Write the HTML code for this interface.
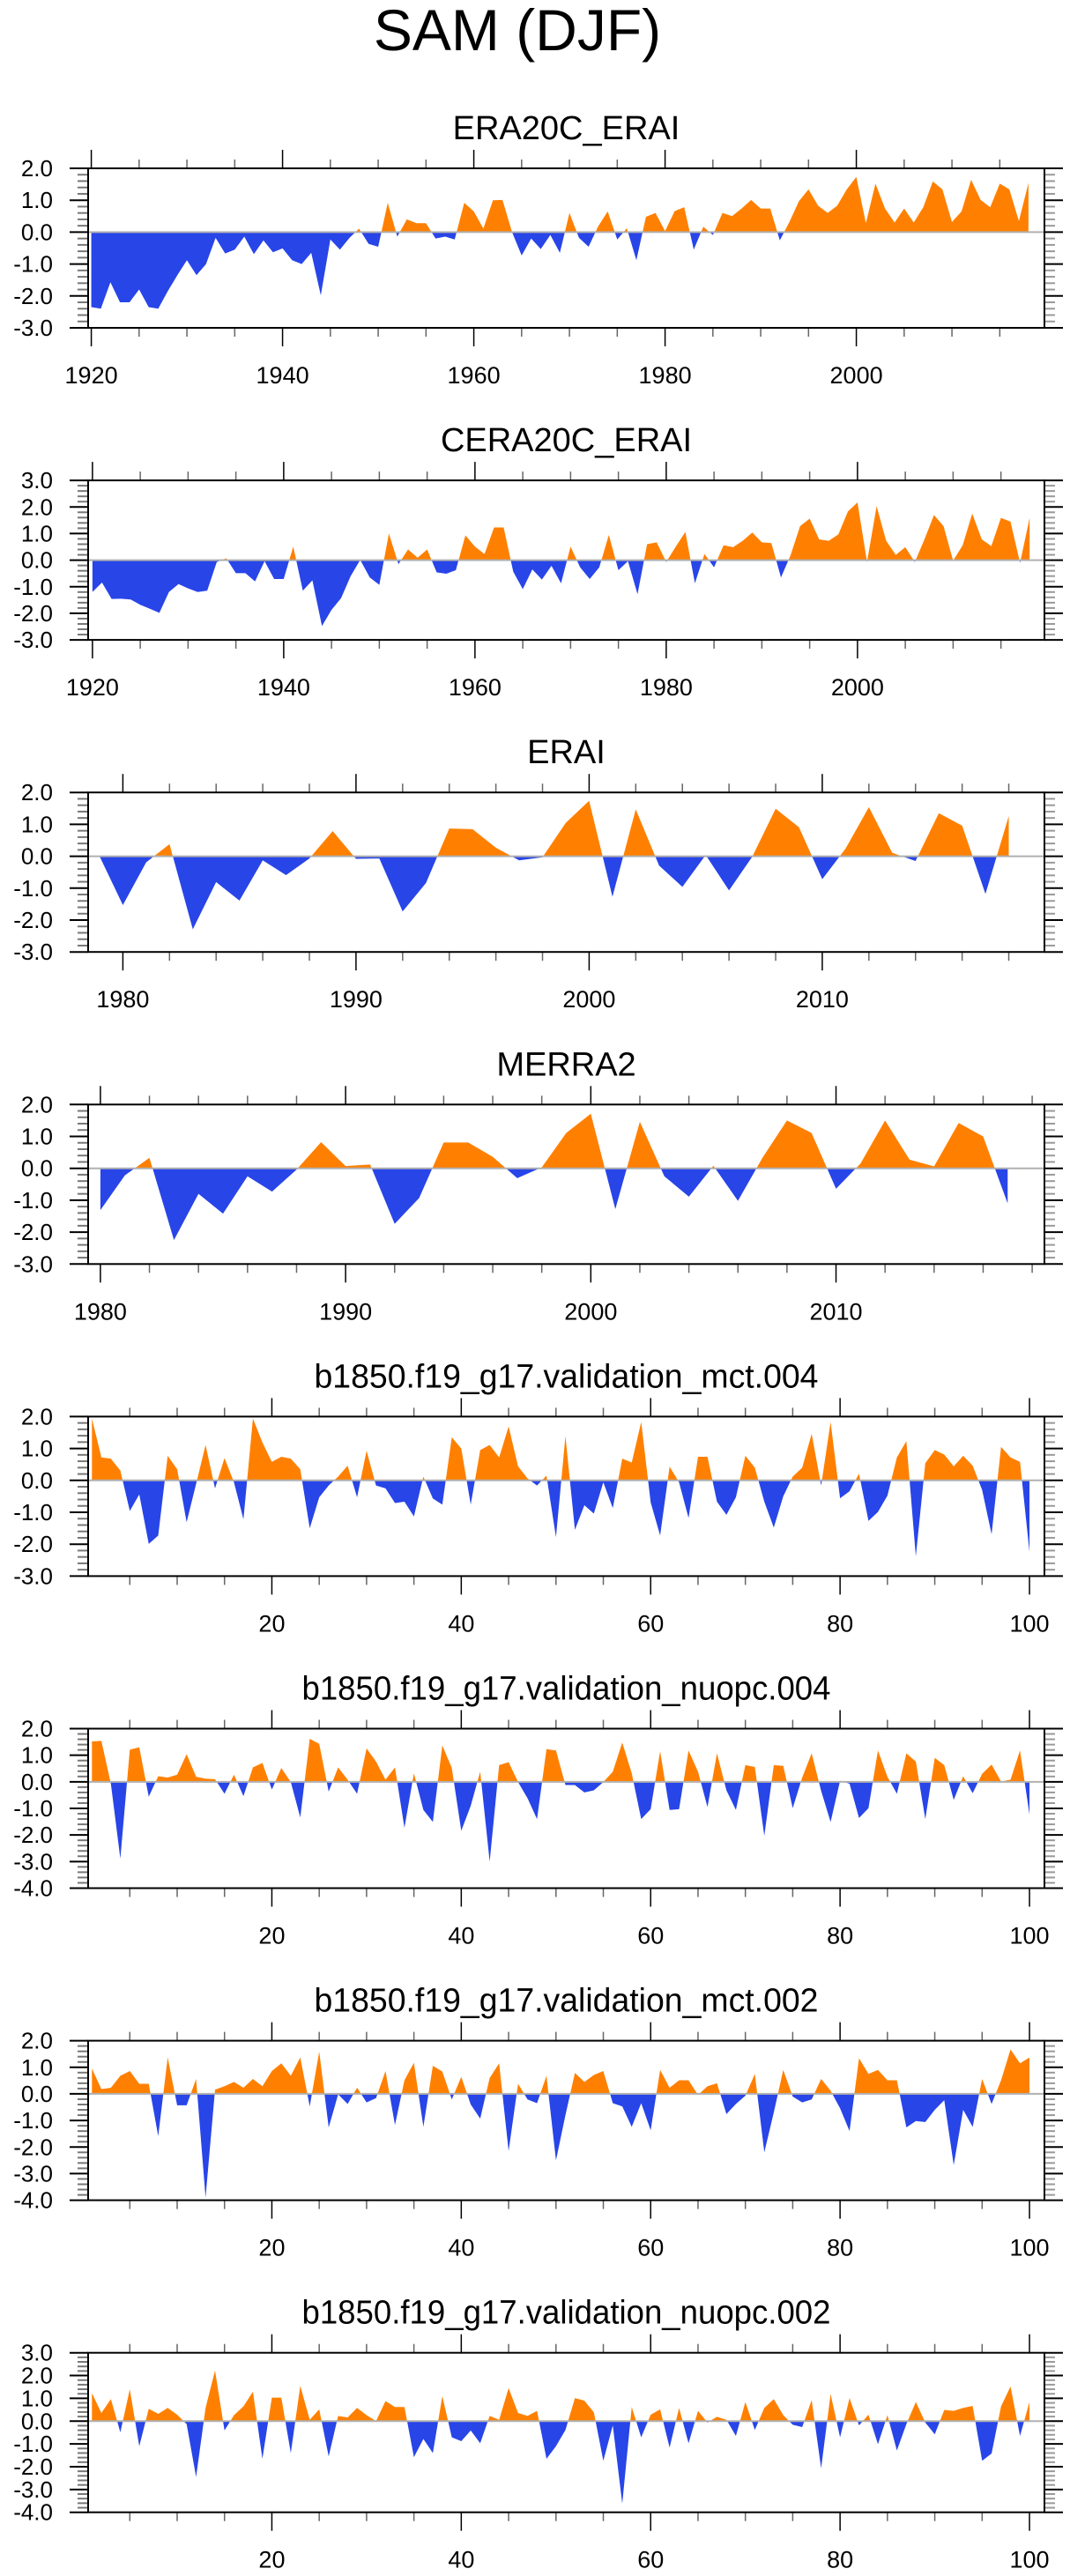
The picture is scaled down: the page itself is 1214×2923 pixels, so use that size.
<!DOCTYPE html>
<html><head><meta charset="utf-8">
<style>
html,body{margin:0;padding:0;background:#fff;}
svg{display:block;font-family:"Liberation Sans",Arial,sans-serif;}
</style></head>
<body>
<svg id="fig" width="1214" height="2923" viewBox="0 0 1214 2923" xmlns="http://www.w3.org/2000/svg">
<text x="587" y="57" font-size="66" text-anchor="middle" fill="#000">SAM (DJF)</text>
</svg>
<script>
// ---- data arrays ----
const era20cStart = 1920;
const era20cVals = [-2.35,-2.4,-1.57,-2.2,-2.2,-1.8,-2.35,-2.4,-1.85,-1.35,-0.88,-1.35,-1.0,-0.18,-0.67,-0.55,-0.14,-0.69,-0.26,-0.63,-0.51,-0.88,-1.0,-0.65,-1.98,-0.23,-0.55,-0.18,0.11,-0.37,-0.46,0.92,-0.14,0.4,0.28,0.28,-0.2,-0.14,-0.23,0.92,0.65,0.11,1.0,1.01,0.0,-0.73,-0.2,-0.53,-0.09,-0.65,0.6,-0.18,-0.46,0.18,0.65,-0.23,0.12,-0.88,0.48,0.6,0.03,0.66,0.78,-0.55,0.17,-0.09,0.6,0.5,0.74,1.01,0.74,0.74,-0.26,0.32,0.97,1.34,0.83,0.6,0.83,1.34,1.73,0.28,1.52,0.74,0.3,0.74,0.3,0.78,1.59,1.34,0.32,0.65,1.64,1.01,0.78,1.52,1.34,0.35,1.54];
const cera20cStart = 1920;
const cera20cVals = [-1.2,-0.84,-1.46,-1.45,-1.48,-1.68,-1.83,-1.98,-1.2,-0.9,-1.06,-1.2,-1.15,-0.07,0.07,-0.49,-0.49,-0.8,-0.04,-0.71,-0.71,0.51,-1.15,-0.76,-2.48,-1.87,-1.43,-0.6,0.01,-0.65,-0.93,1.0,-0.15,0.4,0.09,0.4,-0.46,-0.51,-0.38,0.93,0.51,0.23,1.23,1.23,-0.43,-1.09,-0.35,-0.73,-0.21,-0.87,0.51,-0.27,-0.71,-0.27,0.95,-0.38,-0.04,-1.28,0.6,0.67,-0.07,0.51,1.06,-0.87,0.23,-0.27,0.56,0.49,0.73,1.04,0.67,0.64,-0.65,0.18,1.28,1.56,0.78,0.73,0.97,1.83,2.17,-0.07,2.03,0.73,0.2,0.49,-0.07,0.78,1.7,1.28,-0.02,0.56,1.75,0.78,0.53,1.59,1.45,-0.1,1.59];
const eraiStart = 1979;
const eraiVals = [0.0,-1.53,-0.19,0.38,-2.29,-0.81,-1.39,-0.13,-0.59,-0.07,0.79,-0.08,-0.07,-1.73,-0.84,0.87,0.85,0.27,-0.13,-0.03,1.05,1.74,-1.27,1.47,-0.29,-0.96,0.04,-1.07,-0.01,1.49,0.91,-0.72,0.24,1.54,0.11,-0.15,1.35,0.96,-1.18,1.26];
const merraStart = 1980;
const merraVals = [-1.31,-0.22,0.33,-2.25,-0.8,-1.42,-0.25,-0.73,-0.04,0.82,0.07,0.12,-1.74,-0.93,0.81,0.81,0.36,-0.31,0.03,1.11,1.71,-1.28,1.46,-0.25,-0.89,0.08,-1.02,0.33,1.5,1.11,-0.64,0.15,1.5,0.27,0.06,1.42,1.0,-1.1];
const mct004Start = 1;
const mct004Vals = [1.94,0.72,0.68,0.31,-0.96,-0.44,-1.99,-1.73,0.77,0.35,-1.31,-0.11,1.11,-0.25,0.7,-0.06,-1.22,1.94,1.19,0.58,0.74,0.68,0.35,-1.5,-0.53,-0.16,0.12,0.46,-0.53,0.93,-0.16,-0.25,-0.71,-0.67,-1.13,0.12,-0.57,-0.76,1.35,1.0,-0.76,0.95,1.11,0.72,1.69,0.44,0.06,-0.16,0.15,-1.78,1.39,-1.55,-0.78,-1.04,-0.06,-0.87,0.68,0.56,1.83,-0.69,-1.73,0.43,-0.06,-1.18,0.74,0.74,-0.67,-1.08,-0.53,0.77,0.4,-0.67,-1.48,-0.5,0.12,0.4,1.46,-0.16,1.83,-0.56,-0.34,0.21,-1.27,-0.99,-0.48,0.72,1.23,-2.38,0.54,0.95,0.81,0.44,0.77,0.46,-0.3,-1.69,1.05,0.72,0.58,-2.24];
const nuopc004Start = 1;
const nuopc004Vals = [1.52,1.54,-0.07,-2.89,1.21,1.3,-0.56,0.21,0.16,0.27,1.04,0.19,0.12,0.1,-0.45,0.27,-0.54,0.54,0.71,-0.29,0.52,-0.01,-1.34,1.62,1.43,-0.37,0.54,0.08,-0.45,1.26,0.76,0.08,0.54,-1.73,0.32,-1.06,-1.51,1.37,0.52,-1.84,-0.9,0.38,-3.0,0.63,0.74,-0.01,-0.62,-1.4,1.23,1.18,-0.12,-0.12,-0.4,-0.32,-0.01,0.38,1.48,0.32,-1.4,-1.03,1.15,-1.06,-1.03,1.18,0.38,-0.95,1.07,-0.32,-1.06,0.63,0.56,-2.03,0.63,0.6,-0.99,0.16,1.07,-0.34,-1.51,0.04,-0.07,-1.36,-0.99,1.18,0.19,-0.45,1.07,0.76,-1.4,0.9,0.63,-0.68,0.21,-0.43,0.3,0.65,0.01,0.08,1.18,-1.23];
const mct002Start = 1;
const mct002Vals = [0.95,0.18,0.23,0.68,0.86,0.38,0.38,-1.59,1.37,-0.43,-0.43,0.56,-3.9,0.16,0.29,0.45,0.23,0.56,0.29,0.86,1.15,0.68,1.37,-0.47,1.59,-1.26,-0.02,-0.38,0.23,-0.32,-0.16,0.86,-1.17,0.51,1.17,-1.24,1.06,0.84,-0.21,0.64,-0.4,-0.93,0.6,1.15,-2.15,0.38,-0.21,-0.35,0.68,-2.5,-0.8,0.79,0.45,0.71,0.86,-0.35,-0.47,-1.24,-0.35,-1.37,0.9,0.23,0.51,0.51,-0.04,0.29,0.4,-0.76,-0.38,-0.07,0.75,-2.2,-0.7,0.9,-0.1,-0.32,-0.21,0.56,0.12,-0.54,-1.4,1.34,0.75,0.9,0.51,0.51,-1.26,-1.02,-1.06,-0.6,-0.24,-2.68,-0.6,-1.24,0.56,-0.38,0.51,1.67,1.15,1.37];
const nuopc002Start = 1;
const nuopc002Vals = [1.23,0.36,0.97,-0.49,1.4,-1.1,0.54,0.32,0.58,0.28,-0.13,-2.45,0.58,2.22,-0.41,0.26,0.65,1.29,-1.65,1.03,1.03,-1.4,1.55,0.06,0.52,-1.55,0.23,0.16,0.58,0.26,0.0,0.88,0.62,0.62,-1.58,-0.78,-1.4,1.1,-0.71,-0.88,-0.41,-0.97,0.23,0.06,1.45,0.36,0.23,0.45,-1.65,-1.1,-0.39,1.01,0.9,0.39,-1.74,-0.19,-3.62,0.62,-0.71,0.28,0.52,-1.16,0.58,-0.97,0.45,-0.06,0.19,0.06,-0.65,0.84,-0.39,0.58,0.97,0.26,-0.16,-0.26,0.93,-2.07,1.19,-0.71,1.01,-0.19,0.28,-1.01,0.26,-1.29,-0.13,0.84,-0.06,-0.58,0.49,0.45,0.58,0.67,-1.74,-1.42,0.65,1.52,-0.65,0.84];

const yearTicksA = [1920,1940,1960,1980,2000];
const yearTicksB = [1980,1990,2000,2010];
const indexTicks = [20,40,60,80,100];
const yTicks23 = [2,1,0,-1,-2,-3];
const yTicks33 = [3,2,1,0,-1,-2,-3];
const yTicks24 = [2,1,0,-1,-2,-3,-4];
const yTicks34 = [3,2,1,0,-1,-2,-3,-4];

const panels = [
 {name:'era20c-erai', title:'ERA20C_ERAI', start:era20cStart, vals:era20cVals, xmin:1919.67, xmax:2019.67, ymax:2, ymin:-3, yt:yTicks23, xt:yearTicksA, xminor:5},
 {name:'cera20c-erai', title:'CERA20C_ERAI', start:cera20cStart, vals:cera20cVals, xmin:1919.55, xmax:2019.55, ymax:3, ymin:-3, yt:yTicks33, xt:yearTicksA, xminor:5},
 {name:'erai', title:'ERAI', start:eraiStart, vals:eraiVals, xmin:1978.51, xmax:2019.53, ymax:2, ymin:-3, yt:yTicks23, xt:yearTicksB, xminor:2},
 {name:'merra2', title:'MERRA2', start:merraStart, vals:merraVals, xmin:1979.5, xmax:2018.5, ymax:2, ymin:-3, yt:yTicks23, xt:yearTicksB, xminor:2},
 {name:'mct-004', title:'b1850.f19_g17.validation_mct.004', start:mct004Start, vals:mct004Vals, xmin:0.6, xmax:101.58, ymax:2, ymin:-3, yt:yTicks23, xt:indexTicks, xminor:5, tlen:572},
 {name:'nuopc-004', title:'b1850.f19_g17.validation_nuopc.004', start:nuopc004Start, vals:nuopc004Vals, xmin:0.6, xmax:101.58, ymax:2, ymin:-4, yt:yTicks24, xt:indexTicks, xminor:5, tlen:600},
 {name:'mct-002', title:'b1850.f19_g17.validation_mct.002', start:mct002Start, vals:mct002Vals, xmin:0.6, xmax:101.58, ymax:2, ymin:-4, yt:yTicks24, xt:indexTicks, xminor:5, tlen:572},
 {name:'nuopc-002', title:'b1850.f19_g17.validation_nuopc.002', start:nuopc002Start, vals:nuopc002Vals, xmin:0.6, xmax:101.58, ymax:3, ymin:-4, yt:yTicks34, xt:indexTicks, xminor:5, tlen:600}
];

const NS='http://www.w3.org/2000/svg';
const svg=document.getElementById('fig');
function mk(tag, attrs, parent){const e=document.createElementNS(NS,tag);for(const k in attrs)e.setAttribute(k,attrs[k]);(parent||svg).appendChild(e);return e;}

const L=100, R=1185, H=181;
panels.forEach((p,i)=>{
  const T=191+354.1*i, B=T+H;
  const g=mk('g',{});
  
  
  const sx=v=>L+(v-p.xmin)/(p.xmax-p.xmin)*(R-L);
  const sy=v=>T+(p.ymax-v)/(p.ymax-p.ymin)*H;
  const y0=sy(0);
  const t=mk('text',{x:(L+R)/2,y:T-33,'font-size':38,'text-anchor':'middle',fill:'#000'},g);
  if(p.tlen){t.setAttribute('textLength',p.tlen);t.setAttribute('lengthAdjust','spacingAndGlyphs');}
  t.textContent=p.title;
  
  
  const defs=mk('defs',{},g);
  const cu=mk('clipPath',{id:'cu'+i},defs); mk('rect',{x:L,y:T,width:R-L,height:y0-T},cu);
  const cd=mk('clipPath',{id:'cd'+i},defs); mk('rect',{x:L,y:y0,width:R-L,height:B-y0},cd);
  let pts=[];
  const x0=sx(p.start), xn=sx(p.start+p.vals.length-1);
  pts.push(x0.toFixed(2)+','+y0.toFixed(2));
  p.vals.forEach((v,k)=>pts.push(sx(p.start+k).toFixed(2)+','+sy(v).toFixed(2)));
  pts.push(xn.toFixed(2)+','+y0.toFixed(2));
  const up=mk('polygon',{points:pts.join(' '),fill:'#ff8000','clip-path':'url(#cu'+i+')'},g);
  
  
  const dn=mk('polygon',{points:pts.join(' '),fill:'#2845e8','clip-path':'url(#cd'+i+')'},g);
  
  
  const zl=mk('line',{x1:L,x2:R,y1:y0,y2:y0,stroke:'#b0b0b0','stroke-width':2},g);
  
  
  for(let v=p.ymin; v<=p.ymax+1e-6; v+=0.2){
    const y=sy(v); const major=Math.abs(v-Math.round(v))<1e-6;
    const len=major?21:12;
    mk('line',{x1:L-len,x2:L,y1:y,y2:y,stroke:major?'#000':'#777','stroke-width':2},g);
    mk('line',{x1:R,x2:R+len,y1:y,y2:y,stroke:major?'#000':'#999','stroke-width':2},g);
  }
  p.yt.forEach(v=>{
    const lab=mk('text',{x:60,y:sy(v)+9,'font-size':26,'text-anchor':'end',fill:'#000'},g);
    lab.textContent=v.toFixed(1);
    
    
  });
  const first=Math.ceil(p.xmin/p.xminor)*p.xminor;
  const majStep=p.xt[1]-p.xt[0];
  for(let v=first; v<=p.xmax; v+=p.xminor){
    const x=sx(v); const major=(v%majStep)===0;
    const len=major?21:10;
    mk('line',{x1:x,x2:x,y1:T-len,y2:T,stroke:major?'#000':'#666','stroke-width':1.5},g);
    mk('line',{x1:x,x2:x,y1:B,y2:B+len,stroke:major?'#000':'#666','stroke-width':1.5},g);
  }
  p.xt.forEach(v=>{
    const lab=mk('text',{x:sx(v),y:B+63,'font-size':27,'text-anchor':'middle',fill:'#000'},g);
    lab.textContent=String(v);
    
    
  });
  const box=mk('rect',{x:L,y:T,width:R-L,height:H,fill:'none',stroke:'#000','stroke-width':2},g);
  
  
});
</script>
</body></html>
